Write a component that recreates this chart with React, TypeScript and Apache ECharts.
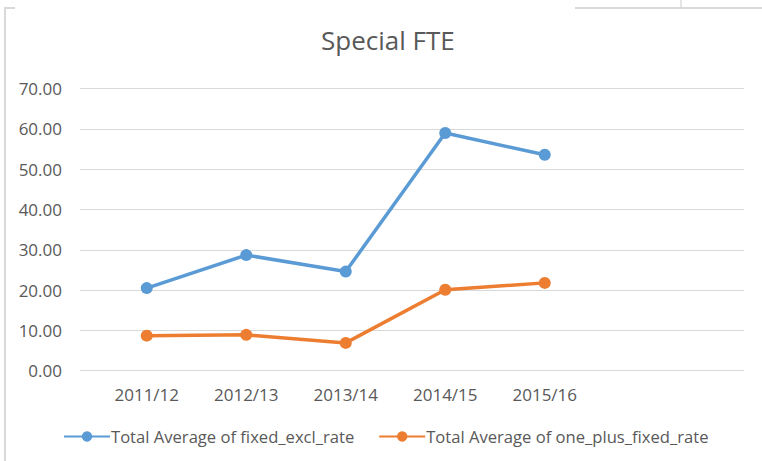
import React, { useEffect, useRef } from "react";
import * as echarts from "echarts";

const categories = ["2011/12", "2012/13", "2013/14", "2014/15", "2015/16", ""];
const fixedExclRate = [20.5, 28.7, 24.6, 59.0, 53.6];
const onePlusFixedRate = [8.7, 8.9, 6.9, 20.1, 21.8];
const seriesNames = ["Total Average of fixed_excl_rate", "Total Average of one_plus_fixed_rate"];
const yTicks = { min: 0, max: 70, interval: 10 };

const FONT = "'Open Sans', 'Noto Sans', sans-serif";

export default function App() {
  const ref = useRef<HTMLDivElement>(null);
  useEffect(() => {
    if (!ref.current) return;
    const chart = echarts.init(ref.current, undefined, { renderer: "svg" });
    chart.setOption({
      animation: false,
      backgroundColor: "#ffffff",
      title: {
        text: "Special FTE",
        left: 316,
        top: 22,
        textStyle: { fontFamily: FONT, fontSize: 26, fontWeight: "normal", color: "#595959" },
      },
      legend: {
        left: 58,
        top: 423,
        itemWidth: 46,
        itemHeight: 13,
        itemGap: 24,
        textStyle: { fontFamily: FONT, fontSize: 16.6, color: "#595959", padding: [0, 0, 0, -4] },
        data: seriesNames,
      },
      grid: [
        { left: 80, right: 18, top: 88.7, bottom: 90.3 },
        { left: 97, width: 597, top: 88.7, bottom: 90.3 },
      ],
      xAxis: [
        { gridIndex: 0, type: "category", data: [""], show: false },
        {
          gridIndex: 1,
          type: "category",
          data: categories,
          boundaryGap: true,
          axisLine: { show: false },
          axisTick: { show: false },
          axisLabel: { fontFamily: FONT, fontSize: 17, color: "#595959", margin: 15, interval: 0 },
        },
      ],
      yAxis: [
        {
          gridIndex: 0,
          type: "value",
          min: yTicks.min,
          max: yTicks.max,
          interval: yTicks.interval,
          axisLine: { show: false },
          axisTick: { show: false },
          splitLine: { lineStyle: { color: "#D9D9D9", width: 1 } },
          axisLabel: {
            fontFamily: FONT,
            fontSize: 17,
            color: "#595959",
            margin: 18,
            formatter: (v: number) => v.toFixed(2),
          },
        },
        {
          gridIndex: 1,
          type: "value",
          min: yTicks.min,
          max: yTicks.max,
          interval: yTicks.interval,
          show: false,
          splitLine: { show: false },
        },
      ],
      series: [
        {
          name: seriesNames[0],
          type: "line",
          xAxisIndex: 1,
          yAxisIndex: 1,
          data: fixedExclRate,
          symbol: "circle",
          symbolSize: 12,
          lineStyle: { width: 3.5, color: "#5B9BD5" },
          itemStyle: { color: "#5B9BD5" },
        },
        {
          name: seriesNames[1],
          type: "line",
          xAxisIndex: 1,
          yAxisIndex: 1,
          data: onePlusFixedRate,
          symbol: "circle",
          symbolSize: 12,
          lineStyle: { width: 3.5, color: "#ED7D31" },
          itemStyle: { color: "#ED7D31" },
        },
      ],
      graphic: [
        { type: "line", shape: { x1: 5, y1: 8, x2: 5, y2: 461 }, style: { stroke: "#D9D9D9", lineWidth: 2 } },
        { type: "line", shape: { x1: 4, y1: 8, x2: 15, y2: 8 }, style: { stroke: "#D9D9D9", lineWidth: 2 } },
        { type: "line", shape: { x1: 575, y1: 8, x2: 762, y2: 8 }, style: { stroke: "#D9D9D9", lineWidth: 2 } },
        { type: "line", shape: { x1: 681, y1: 0, x2: 681, y2: 7 }, style: { stroke: "#C8C8C8", lineWidth: 1 } },
      ],
    });
    return () => chart.dispose();
  }, []);
  return (
    <div
      ref={ref}
      style={{ position: "absolute", left: 0, top: 0, width: 762, height: 461 }}
    />
  );
}
